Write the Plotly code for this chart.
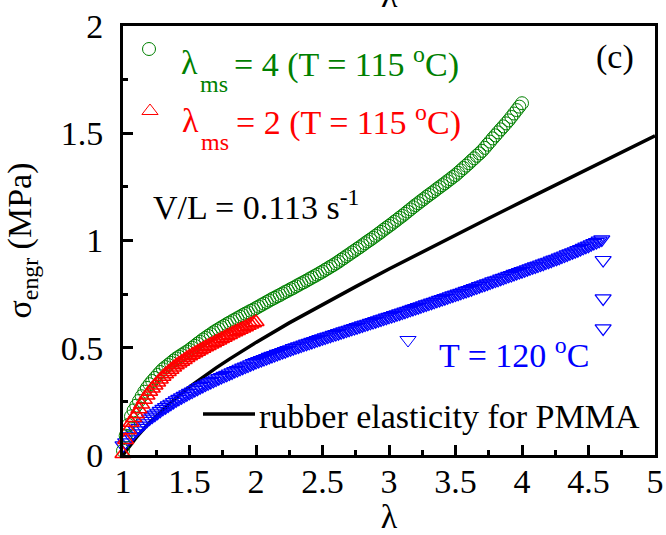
import plotly.graph_objects as go

# Stretch ratio sample positions (shared by the three measured series)
lam = [
    1.00, 1.02, 1.04, 1.06, 1.08, 1.10, 1.12, 1.14, 1.16, 1.18,
    1.20, 1.22, 1.24, 1.26, 1.28, 1.30, 1.32, 1.34, 1.36, 1.38,
    1.40, 1.42, 1.44, 1.46, 1.48, 1.50, 1.52, 1.54, 1.56, 1.58,
    1.60, 1.62, 1.64, 1.66, 1.68, 1.70, 1.72, 1.74, 1.76, 1.78,
    1.80, 1.82, 1.84, 1.86, 1.88, 1.90, 1.92, 1.94, 1.96, 1.98,
    2.00, 2.02, 2.04, 2.06, 2.08, 2.10, 2.12, 2.14, 2.16, 2.18,
    2.20, 2.22, 2.24, 2.26, 2.28, 2.30, 2.32, 2.34, 2.36, 2.38,
    2.40, 2.42, 2.44, 2.46, 2.48, 2.50, 2.52, 2.54, 2.56, 2.58,
    2.60, 2.62, 2.64, 2.66, 2.68, 2.70, 2.72, 2.74, 2.76, 2.78,
    2.80, 2.82, 2.84, 2.86, 2.88, 2.90, 2.92, 2.94, 2.96, 2.98,
    3.00, 3.02, 3.04, 3.06, 3.08, 3.10, 3.12, 3.14, 3.16, 3.18,
    3.20, 3.22, 3.24, 3.26, 3.28, 3.30, 3.32, 3.34, 3.36, 3.38,
    3.40, 3.42, 3.44, 3.46, 3.48, 3.50, 3.52, 3.54, 3.56, 3.58,
    3.60, 3.62, 3.64, 3.66, 3.68, 3.70, 3.72, 3.74, 3.76, 3.78,
    3.80, 3.82, 3.84, 3.86, 3.88, 3.90, 3.92, 3.94, 3.96, 3.98,
    4.00, 4.02, 4.04, 4.06, 4.08, 4.10, 4.12, 4.14, 4.16, 4.18,
    4.20, 4.22, 4.24, 4.26, 4.28, 4.30, 4.32, 4.34, 4.36, 4.38,
    4.40, 4.42, 4.44, 4.46, 4.48, 4.50, 4.52, 4.54, 4.56, 4.58,
    4.60,
]

# lambda_ms = 4, T = 115 C (engineering stress, MPa), lambda 1.00 .. 4.00
sigma_ms4 = [
    0.020, 0.090, 0.140, 0.180, 0.208, 0.230, 0.252, 0.274, 0.295, 0.313,
    0.330, 0.345, 0.359, 0.373, 0.387, 0.400, 0.410, 0.420, 0.430, 0.440,
    0.450, 0.458, 0.466, 0.474, 0.482, 0.490, 0.500, 0.509, 0.519, 0.528,
    0.538, 0.546, 0.555, 0.563, 0.572, 0.580, 0.587, 0.595, 0.602, 0.610,
    0.617, 0.624, 0.631, 0.638, 0.645, 0.652, 0.659, 0.665, 0.672, 0.678,
    0.685, 0.692, 0.699, 0.706, 0.713, 0.720, 0.727, 0.733, 0.740, 0.746,
    0.753, 0.760, 0.766, 0.773, 0.779, 0.786, 0.793, 0.800, 0.806, 0.813,
    0.820, 0.827, 0.834, 0.841, 0.848, 0.855, 0.863, 0.870, 0.878, 0.885,
    0.893, 0.901, 0.910, 0.918, 0.927, 0.935, 0.944, 0.952, 0.961, 0.969,
    0.978, 0.987, 0.996, 1.004, 1.013, 1.022, 1.031, 1.040, 1.050, 1.059,
    1.068, 1.077, 1.087, 1.096, 1.106, 1.115, 1.125, 1.135, 1.145, 1.155,
    1.165, 1.174, 1.184, 1.193, 1.203, 1.212, 1.221, 1.230, 1.240, 1.249,
    1.258, 1.267, 1.277, 1.286, 1.296, 1.305, 1.316, 1.327, 1.338, 1.349,
    1.360, 1.372, 1.383, 1.395, 1.406, 1.418, 1.432, 1.447, 1.461, 1.476,
    1.490, 1.504, 1.518, 1.532, 1.546, 1.560, 1.576, 1.592, 1.608, 1.624,
    1.640,
]

# lambda_ms = 2, T = 115 C, lambda 1.00 .. 2.00
sigma_ms2 = [
    0.005, 0.070, 0.115, 0.150, 0.172, 0.190, 0.213, 0.235, 0.257, 0.277,
    0.295, 0.310, 0.324, 0.338, 0.352, 0.365, 0.376, 0.387, 0.397, 0.408,
    0.418, 0.427, 0.435, 0.443, 0.452, 0.460, 0.467, 0.474, 0.481, 0.488,
    0.495, 0.502, 0.508, 0.515, 0.521, 0.528, 0.534, 0.541, 0.547, 0.554,
    0.560, 0.566, 0.572, 0.578, 0.584, 0.590, 0.596, 0.602, 0.608, 0.614,
    0.620,
]

# T = 120 C, lambda 1.00 .. 4.60
sigma_t120 = [
    0.045, 0.059, 0.073, 0.087, 0.101, 0.115, 0.126, 0.137, 0.148, 0.159,
    0.170, 0.179, 0.188, 0.197, 0.206, 0.215, 0.223, 0.231, 0.239, 0.247,
    0.255, 0.262, 0.269, 0.276, 0.283, 0.290, 0.296, 0.303, 0.309, 0.316,
    0.322, 0.328, 0.334, 0.340, 0.346, 0.352, 0.358, 0.363, 0.369, 0.374,
    0.380, 0.385, 0.391, 0.396, 0.402, 0.407, 0.412, 0.417, 0.423, 0.428,
    0.433, 0.438, 0.443, 0.447, 0.452, 0.457, 0.462, 0.466, 0.471, 0.475,
    0.480, 0.484, 0.489, 0.493, 0.498, 0.502, 0.506, 0.510, 0.515, 0.519,
    0.523, 0.527, 0.531, 0.536, 0.540, 0.544, 0.548, 0.552, 0.556, 0.560,
    0.564, 0.568, 0.572, 0.576, 0.580, 0.584, 0.588, 0.592, 0.596, 0.600,
    0.604, 0.608, 0.612, 0.616, 0.620, 0.624, 0.628, 0.632, 0.636, 0.640,
    0.644, 0.648, 0.652, 0.656, 0.660, 0.664, 0.668, 0.672, 0.677, 0.681,
    0.685, 0.689, 0.693, 0.698, 0.702, 0.706, 0.710, 0.714, 0.719, 0.723,
    0.727, 0.731, 0.735, 0.740, 0.744, 0.748, 0.752, 0.756, 0.761, 0.765,
    0.769, 0.773, 0.778, 0.782, 0.787, 0.791, 0.795, 0.800, 0.804, 0.809,
    0.813, 0.817, 0.822, 0.826, 0.831, 0.835, 0.839, 0.844, 0.848, 0.853,
    0.857, 0.861, 0.866, 0.870, 0.875, 0.879, 0.883, 0.888, 0.892, 0.897,
    0.901, 0.906, 0.911, 0.915, 0.920, 0.925, 0.930, 0.935, 0.940, 0.945,
    0.950, 0.955, 0.960, 0.966, 0.971, 0.976, 0.982, 0.988, 0.993, 0.999,
    1.005,
]
# last points of the T = 120 C run after the stress drop
t120_tail_lam = [4.61, 4.61, 4.61]
t120_tail_sigma = [0.909, 0.730, 0.590]

# rubber elasticity prediction for PMMA
rubber_lam = [1.0, 1.1, 1.2, 1.3, 1.4, 1.5, 1.6, 1.7, 1.8, 1.9, 2.0, 2.25, 2.5,
              2.75, 3.0, 3.25, 3.5, 3.75, 4.0, 4.25, 4.5, 4.75, 5.0]
rubber_sigma = [0.0, 0.082, 0.152, 0.212, 0.267, 0.317, 0.363, 0.406, 0.447,
                0.487, 0.525, 0.616, 0.702, 0.785, 0.867, 0.947, 1.026, 1.104,
                1.181, 1.258, 1.335, 1.412, 1.488]

GREEN = "#008000"
RED = "#ff0000"
BLUE = "#0000ff"
FONT = "Liberation Serif"
FS = 34
FS_SUB = 24

n_ms4 = len(sigma_ms4)
n_ms2 = len(sigma_ms2)
n_t120 = len(sigma_t120)

fig = go.Figure()

fig.add_trace(go.Scatter(
    x=rubber_lam, y=rubber_sigma, mode="lines",
    line=dict(color="black", width=3.5), showlegend=False,
))
fig.add_trace(go.Scatter(
    x=lam[:n_t120] + t120_tail_lam, y=sigma_t120 + t120_tail_sigma,
    mode="markers", cliponaxis=False,
    marker=dict(symbol="triangle-down-open", size=14, color=BLUE,
                line=dict(width=1.2, color=BLUE)),
    showlegend=False,
))
fig.add_trace(go.Scatter(
    x=lam[:n_ms4], y=sigma_ms4, mode="markers", cliponaxis=False,
    marker=dict(symbol="circle-open", size=13, color=GREEN,
                line=dict(width=1, color=GREEN)),
    showlegend=False,
))
fig.add_trace(go.Scatter(
    x=lam[:n_ms2], y=sigma_ms2, mode="markers", cliponaxis=False,
    marker=dict(symbol="triangle-up-open", size=14, color=RED,
                line=dict(width=1.5, color=RED)),
    showlegend=False,
))

W, H = 666, 535
L, R, T, B = 123, 11, 26, 80
PW, PH = W - L - R, H - T - B


def px(xp):
    return (xp - L) / PW


def py(yp):
    return (H - B - yp) / PH


axis_common = dict(
    showline=True, linecolor="black", linewidth=3, mirror=True,
    showgrid=False, zeroline=False, automargin=False,
    ticks="inside", ticklen=10, tickwidth=3, tickcolor="black",
    tickfont=dict(family=FONT, size=FS, color="black"),
    minor=dict(ticks="inside", ticklen=5, tickwidth=3, tickcolor="black",
               showgrid=False),
)

fig.update_layout(
    width=W, height=H,
    margin=dict(l=L, r=R, t=T, b=B, autoexpand=False),
    paper_bgcolor="white", plot_bgcolor="white",
    font=dict(family=FONT, size=FS, color="black"),
    showlegend=False,
    xaxis=dict(range=[1, 5], tick0=1, dtick=0.5, ticklabelstandoff=-6,
               minor_dtick=0.25,
               title=dict(text="λ", standoff=6,
                          font=dict(family=FONT, size=FS)),
               **axis_common),
    yaxis=dict(range=[0, 2], tick0=0, dtick=0.5, ticklabelstandoff=10,
               minor_dtick=0.25,
               title=dict(text="σ<sub>engr</sub> (MPa)", standoff=19,
                          font=dict(family=FONT, size=FS)),
               **axis_common),
)


# legend keys, sized in pixels around an anchor point
def key_circle(cx, cy, color, r=6.5):
    fig.add_shape(type="circle", xref="paper", yref="paper",
                  xsizemode="pixel", ysizemode="pixel",
                  xanchor=px(cx), yanchor=py(cy),
                  x0=-r, x1=r, y0=-r, y1=r,
                  line=dict(color=color, width=1))


def key_triangle(cx, cy, color, up=True):
    s = 1 if up else -1
    path = f"M-8.1,{-3.5 * s} L8.1,{-3.5 * s} L0,{7 * s} Z"
    fig.add_shape(type="path", xref="paper", yref="paper",
                  xsizemode="pixel", ysizemode="pixel",
                  xanchor=px(cx), yanchor=py(cy), path=path,
                  line=dict(color=color, width=1))


key_circle(149, 49, GREEN)
key_triangle(150, 111, RED, up=True)
key_triangle(408, 340, BLUE, up=False)
fig.add_shape(type="line", xref="paper", yref="paper",
              x0=px(203), x1=px(255), y0=py(414), y1=py(414),
              line=dict(color="black", width=3.5))


def label(text, x, y, color="black", size=FS, xanchor="left", yanchor="middle"):
    fig.add_annotation(text=text, x=x, y=y, xref="paper", yref="paper",
                       xanchor=xanchor, yanchor=yanchor, showarrow=False,
                       borderpad=0,
                       font=dict(family=FONT, size=size, color=color))


# lambda_ms entries: symbol, lowered subscript, then the condition
label("λ", px(180), py(63), GREEN)
label("ms", px(199), py(84), GREEN, size=FS_SUB)
label("= 4 (T = 115 <sup>o</sup>C)", px(233), py(63), GREEN)
label("λ", px(181), py(120), RED)
label("ms", px(200), py(142), RED, size=FS_SUB)
label("= 2 (T = 115 <sup>o</sup>C)", px(235), py(120), RED)

label("V/L = 0.113 s<sup>-1</sup>", px(152), py(205))
label("(c)", px(595), py(57))
label("T = 120 <sup>o</sup>C", px(438), py(353), BLUE)
label("rubber elasticity for PMMA", px(258), py(416))
label("λ", 0.5, py(15), xanchor="center", yanchor="bottom")

fig.write_html("out.html")
